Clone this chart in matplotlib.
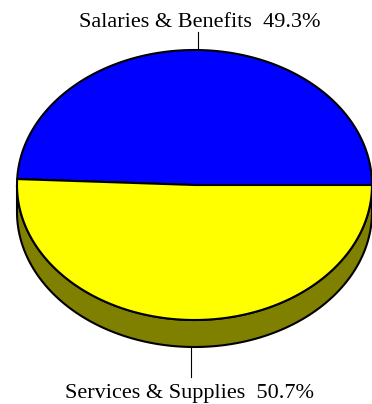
import numpy as np
import matplotlib.pyplot as plt
from matplotlib.patches import Polygon

labels = ['Salaries & Benefits', 'Services & Supplies']
shares = [49.3, 50.7]
top_colors = ['#0000FF', '#FFFF00']
side_colors = ['#00007F', '#808000']

# pie geometry in pixel units (y grows downward)
cx, cy = 194.5, 185.0
a, b = 177.5, 135.0
depth = 27.0


def rim(t0, t1, n=200, dy=0.0):
    t = np.radians(np.linspace(t0, t1, n))
    return np.column_stack([cx + a * np.cos(t), cy - b * np.sin(t) + dy])


fig = plt.figure(figsize=(3.72, 4.04), dpi=100)
ax = fig.add_axes([0, 0, 1, 1])
ax.set_xlim(0, 372)
ax.set_ylim(404, 0)
ax.axis('off')

fracs = np.array(shares) / np.sum(shares)
bounds = np.concatenate([[0], np.cumsum(fracs) * 360])

# side walls: only the front half (180..360 deg) is visible
for i in range(len(shares)):
    t0, t1 = max(bounds[i], 180), min(bounds[i + 1], 360)
    if t1 <= t0:
        continue
    top = rim(t0, t1)
    bot = rim(t0, t1, dy=depth)[::-1]
    ax.add_patch(Polygon(np.vstack([top, bot]), closed=True,
                         facecolor=side_colors[i], edgecolor='black', lw=1.5))

# top faces
for i in range(len(shares)):
    pts = np.vstack([[cx, cy], rim(bounds[i], bounds[i + 1])])
    ax.add_patch(Polygon(pts, closed=True, facecolor=top_colors[i],
                         edgecolor='black', lw=1.5, joinstyle='round'))

# labels with leader lines at each slice's mid angle
font = dict(family='Liberation Serif', fontsize=16)
for i, (lab, val) in enumerate(zip(labels, shares)):
    mid = np.radians((bounds[i] + bounds[i + 1]) / 2)
    x = cx + a * np.cos(mid)
    y = cy - b * np.sin(mid)
    text = f'{lab}  {val:.1f}%'
    if np.sin(mid) > 0:
        ax.plot([x, x], [y, y - 18], color='black', lw=0.8)
        ax.text(x + 1, y - 23, text, ha='center', va='baseline', **font)
    else:
        y += depth
        ax.plot([x, x], [y, y + 30], color='black', lw=0.8)
        ax.text(x - 1, y + 51, text, ha='center', va='baseline', **font)

fig.savefig('out.png', dpi=100)
